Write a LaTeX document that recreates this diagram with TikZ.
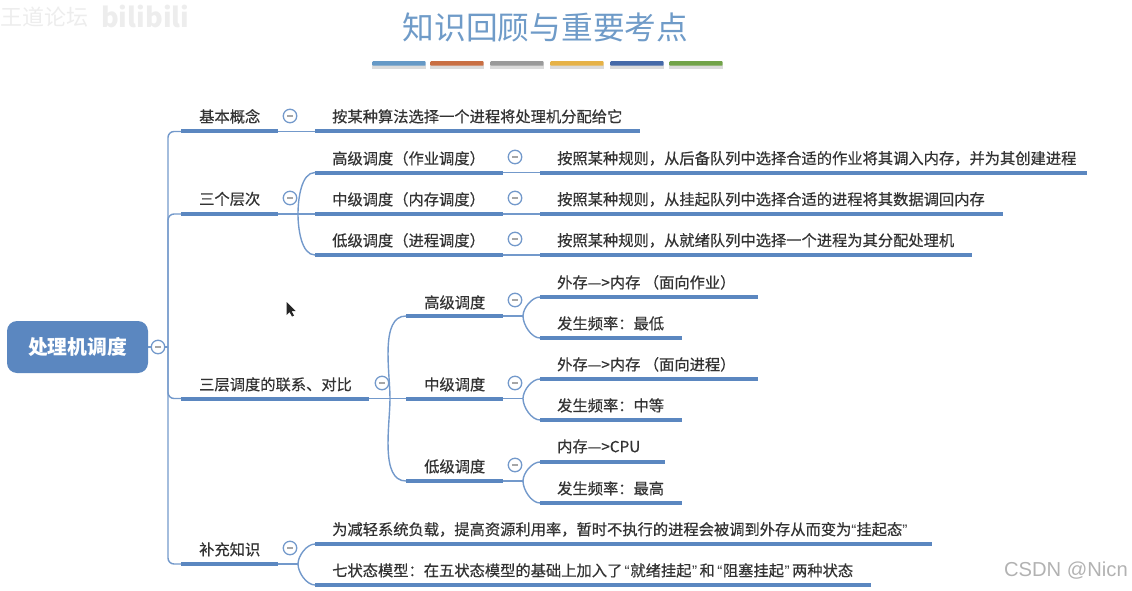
\documentclass[tikz,border=0pt]{standalone}
\usepackage{fontspec}
\setmainfont{Noto Sans CJK SC}
\newfontfamily\latinfont{Liberation Sans}
\newfontfamily\labfont[RawFeature={embolden=0.5}]{Noto Sans CJK SC}
\newcommand{\lqm}{{\latinfont “}}
\newcommand{\rqm}{{\latinfont ”}}
\newcommand{\lqw}{\hspace{2.4pt}{\latinfont “}\hspace{0.6pt}}
\newcommand{\rqw}{\hspace{0.6pt}{\latinfont ”}\hspace{2.4pt}}
\definecolor{barc}{HTML}{5B87C0}
\definecolor{linkc}{HTML}{7399CB}
\definecolor{txtc}{HTML}{333333}
\definecolor{titlec}{HTML}{6F9BC8}
\definecolor{cola}{HTML}{6699C6}
\definecolor{colb}{HTML}{C96F43}
\definecolor{colc}{HTML}{9A9A9A}
\definecolor{cold}{HTML}{E6B247}
\definecolor{cole}{HTML}{4569A8}
\definecolor{colf}{HTML}{72A349}
\tikzset{
  x=1pt,y=-1pt,
  barn/.style={fill=barc,draw=none,rectangle,inner sep=0pt,minimum height=4pt,anchor=west},
  link/.style={draw=linkc,line width=1.4pt},
  foldc/.style={circle,draw=linkc,line width=1.3pt,fill=white,minimum size=13.5pt,inner sep=0pt,
    path picture={\draw[black!35,line width=1.1pt] ([xshift=-3pt]path picture bounding box.center) -- ([xshift=3pt]path picture bounding box.center);}},
  lab/.style={anchor=west,inner sep=0pt,text=txtc,font=\labfont\fontsize{15.27}{18}\selectfont},
  colbar/.style={rectangle,inner sep=0pt,minimum height=4.5pt,minimum width=53.5pt,rounded corners=0.8pt,anchor=west},
}
\newcommand{\mbar}[4]{\node[barn,minimum width={(#3-#2)*1pt}] (#1) at (#2,#4) {};}
\newcommand{\mlab}[4]{\node[lab] (#1) at (#2,#3+0.4) {#4};}
\newcommand{\mfold}[3]{\node[foldc] (#1) at (#2,#3) {};}
\newcommand{\cbar}[3]{\fill[black!14] (#2,65.5) rectangle ++(53.5,3.5); \node[colbar,fill=#3] (#1) at (#2,63.5) {};}
\begin{document}
\begin{tikzpicture}
\useasboundingbox (0,0) rectangle (1132,591);
% watermark
\node[anchor=west,inner sep=0pt,text=black!7,font=\fontsize{22}{24}\selectfont] (wm1) at (0,17) {王道论坛};
\node[anchor=west,inner sep=0pt,text=black!7,font=\fontsize{27}{30}\selectfont\bfseries] (wm2) at (101,16) {bilibili};
% title
\node[inner sep=0pt,text=titlec,font=\fontsize{31.7}{34}\selectfont] (title) at (545.5,27) {知识回顾与重要考点};
\cbar{c1}{372}{cola}
\cbar{c2}{430}{colb}
\cbar{c3}{490}{colc}
\cbar{c4}{550}{cold}
\cbar{c5}{610}{cole}
\cbar{c6}{669}{colf}
% root
\node[rectangle,rounded corners=10pt,fill=barc,draw=none,minimum width=141pt,minimum height=52pt,inner sep=0pt,text=white,font=\fontsize{19.8}{22}\selectfont\bfseries] (root) at (77.5,347) {\raisebox{-1pt}{处理机调度}};
\coordinate (trunk) at (168,347);
% bars
\mbar{a1}{181}{278}{131.5}
\mbar{a2}{181}{278}{214}
\mbar{a3}{181}{369}{398.5}
\mbar{a4}{181}{278}{564}
\mbar{a1x}{315}{640}{131.5}
\mbar{b1}{315}{503}{172.5}
\mbar{b2}{315}{503}{214}
\mbar{b3}{315}{503}{255}
\mbar{b1x}{540}{1087}{172.5}
\mbar{b2x}{540}{1003}{214}
\mbar{b3x}{540}{972}{255}
\mbar{d1}{406}{503}{316}
\mbar{d2}{406}{503}{398.5}
\mbar{d3}{406}{503}{481}
\mbar{e1}{540}{758}{297}
\mbar{e2}{540}{682}{338}
\mbar{e3}{540}{758}{379}
\mbar{e4}{540}{682}{420}
\mbar{e5}{540}{665}{462}
\mbar{e6}{540}{682}{503}
\mbar{f1}{315}{932}{544}
\mbar{f2}{315}{871}{585}
% connectors
\draw[link] (root.east) -- (trunk);
\draw[link,rounded corners=6pt] (trunk) |- (a1.west);
\draw[link,rounded corners=6pt] (trunk) |- (a2.west);
\draw[link,rounded corners=6pt] (trunk) |- (a3.west);
\draw[link,rounded corners=6pt] (trunk) |- (a4.west);
\draw[link] (a1.east) -- (a1x.west);
\draw[link] (a2.east) -- (b2.west);
\coordinate (j2) at (298,214);
\draw[link] (j2) to[out=90,in=180,looseness=0.8] (b1.west);
\draw[link] (j2) to[out=-90,in=180,looseness=0.8] (b3.west);
\draw[link] (b1.east) -- (b1x.west);
\draw[link] (b2.east) -- (b2x.west);
\draw[link] (b3.east) -- (b3x.west);
\draw[link] (a3.east) -- (d2.west);
\coordinate (j3) at (390,398.5);
\draw[link] (j3) to[out=90,in=180,looseness=0.8] (d1.west);
\draw[link] (j3) to[out=-90,in=180,looseness=0.8] (d3.west);
\coordinate (k1) at (523,316);
\coordinate (k2) at (523,398.5);
\coordinate (k3) at (523,481);
\draw[link] (d1.east) -- (k1);
\draw[link] (d2.east) -- (k2);
\draw[link] (d3.east) -- (k3);
\draw[link] (k1) to[out=90,in=180,looseness=0.8] (e1.west);
\draw[link] (k1) to[out=-90,in=180,looseness=0.8] (e2.west);
\draw[link] (k2) to[out=90,in=180,looseness=0.8] (e3.west);
\draw[link] (k2) to[out=-90,in=180,looseness=0.8] (e4.west);
\draw[link] (k3) to[out=90,in=180,looseness=0.8] (e5.west);
\draw[link] (k3) to[out=-90,in=180,looseness=0.8] (e6.west);
\coordinate (j4) at (298,564);
\draw[link] (a4.east) -- (j4);
\draw[link] (j4) to[out=90,in=180,looseness=0.8] (f1.west);
\draw[link] (j4) to[out=-90,in=180,looseness=0.8] (f2.west);
% fold circles
\mfold{o0}{158}{347}
\mfold{o1}{290}{116}
\mfold{o2}{290}{198}
\mfold{o3}{382}{383}
\mfold{o4}{290}{548}
\mfold{o5}{515}{157}
\mfold{o6}{515}{198}
\mfold{o7}{515}{239}
\mfold{o8}{515}{300}
\mfold{o9}{515}{383}
\mfold{o10}{515}{465}
% labels
\mlab{t1}{199}{116}{基本概念}
\mlab{t2}{199}{198.5}{三个层次}
\mlab{t3}{199}{384}{三层调度的联系、对比}
\mlab{t4}{199}{549}{补充知识}
\mlab{t5}{332}{116}{按某种算法选择一个进程将处理机分配给它}
\mlab{t6}{332}{158}{高级调度（作业调度）}
\mlab{t7}{332}{199}{中级调度（内存调度）}
\mlab{t8}{332}{240}{低级调度（进程调度）}
\mlab{t9}{557}{158}{按照某种规则，从后备队列中选择合适的作业将其调入内存，并为其创建进程}
\mlab{t10}{557}{199}{按照某种规则，从挂起队列中选择合适的进程将其数据调回内存}
\mlab{t11}{557}{240}{按照某种规则，从就绪队列中选择一个进程为其分配处理机}
\mlab{t12}{424}{302}{高级调度}
\mlab{t13}{424}{384}{中级调度}
\mlab{t14}{424}{466}{低级调度}
\mlab{t15}{557}{282}{外存—>内存 （面向作业）}
\mlab{t16}{557}{323}{发生频率：最低}
\mlab{t17}{557}{364}{外存—>内存 （面向进程）}
\mlab{t18}{557}{405}{发生频率：中等}
\mlab{t19}{557}{446}{内存—>CPU}
\mlab{t20}{557}{488}{发生频率：最高}
\mlab{t21}{332}{529}{为减轻系统负载，提高资源利用率，暂时不执行的进程会被调到外存从而变为\lqm 挂起态\rqm}
\mlab{t22}{332}{570}{七状态模型：在五状态模型的基础上加入了\lqw 就绪挂起\rqw 和\lqw 阻塞挂起\rqw 两种状态}
% cursor
\fill[black!85] (286.5,302) -- (286.5,315) -- (289.5,312) -- (292,316.5) -- (294,315.5) -- (291.5,311) -- (295.5,311) -- cycle;
% credit
\node[anchor=east,inner sep=0pt,text=black!30,font=\latinfont\fontsize{20.2}{22}\selectfont] (csdn) at (1128,571) {CSDN @Nicn};
\end{tikzpicture}
\end{document}
